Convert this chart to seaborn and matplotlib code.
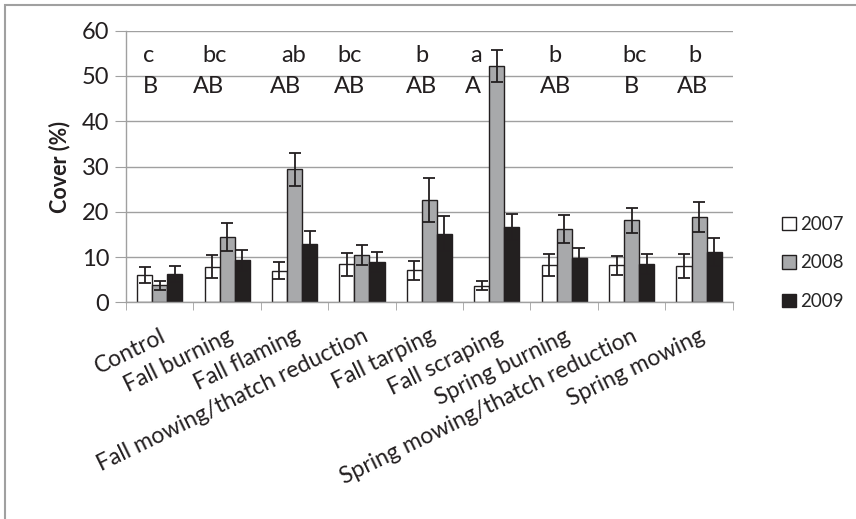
import numpy as np
import pandas as pd
import matplotlib
matplotlib.use("Agg")
import matplotlib.pyplot as plt
import seaborn as sns
from matplotlib.patches import Rectangle

treatments = ["Control", "Fall burning", "Fall flaming", "Fall mowing/thatch reduction",
              "Fall tarping", "Fall scraping", "Spring burning",
              "Spring mowing/thatch reduction", "Spring mowing"]
years = ["2007", "2008", "2009"]

cover_2007 = [6.1, 7.9, 7.0, 8.4, 7.1, 3.7, 8.2, 8.2, 8.0]
cover_2008 = [3.8, 14.5, 29.4, 10.4, 22.6, 52.2, 16.2, 18.1, 18.9]
cover_2009 = [6.2, 9.3, 12.8, 9.0, 15.2, 16.7, 9.8, 8.5, 11.1]

se_2007 = [1.8, 2.5, 1.9, 2.5, 2.1, 1.0, 2.4, 2.1, 2.6]
se_2008 = [1.0, 3.1, 3.6, 2.2, 4.9, 3.6, 3.0, 2.7, 3.3]
se_2009 = [1.8, 2.3, 2.9, 2.2, 3.9, 2.9, 2.3, 2.2, 3.1]

letters_lower = ["c", "bc", "ab", "bc", "b", "a", "b", "bc", "b"]
letters_upper = ["B", "AB", "AB", "AB", "AB", "A", "AB", "B", "AB"]

# layout: horizontal nudges of the letters (category units)
lower_dx = [-0.16, -0.18, -0.02, -0.19, -0.11, -0.31, -0.13, 0.04, -0.06]
upper_dx = [-0.14, -0.28, -0.14, -0.18, -0.12, -0.36, -0.13, 0.0, -0.09]

df = pd.DataFrame({
    "treatment": treatments * 3,
    "year": [y for y in years for _ in treatments],
    "cover": cover_2007 + cover_2008 + cover_2009,
})
se = [se_2007, se_2008, se_2009]

sns.set_style("white")
plt.rcParams["font.family"] = ["Lato", "DejaVu Sans"]
ink = "#231f20"

fig = plt.figure(figsize=(8.56, 5.19), dpi=100)
ax = fig.add_axes([0.1472, 0.4175, 0.856 - 0.1472, 0.9408 - 0.4175])

palette = ["#ffffff", "#a7a9ac", ink]
sns.barplot(data=df, x="treatment", y="cover", hue="year", palette=palette,
            order=treatments, hue_order=years, errorbar=None, width=0.67,
            edgecolor=ink, linewidth=1.0, ax=ax, zorder=2)

# error bars on top of each bar
for cont, err in zip(ax.containers, se):
    xs = [p.get_x() + p.get_width() / 2 for p in cont]
    hs = [p.get_height() for p in cont]
    ax.errorbar(xs, hs, yerr=err, fmt="none", ecolor=ink,
                elinewidth=1.3, capsize=4, capthick=1.3, zorder=3)

for i in range(len(treatments)):
    ax.text(i + lower_dx[i], 54.6, letters_lower[i], ha="center", va="center",
            fontsize=17, color=ink)
    ax.text(i + upper_dx[i], 47.7, letters_upper[i], ha="center", va="center",
            fontsize=17, color=ink)

ax.set_ylim(0, 60)
ax.set_xlim(-0.5, len(treatments) - 0.5)
ax.set_yticks(range(0, 61, 10))
ax.yaxis.grid(True, color="#a0a0a0", linewidth=1.0)
ax.set_axisbelow(True)
for s in ["top", "right"]:
    ax.spines[s].set_visible(False)
for s in ["left", "bottom"]:
    ax.spines[s].set_color("#a0a0a0")
    ax.spines[s].set_linewidth(1.0)

ax.set_xticks(np.arange(-0.5, len(treatments)), minor=True)
ax.tick_params(axis="x", which="minor", length=6, color="#a0a0a0", direction="out", bottom=True)
ax.tick_params(axis="x", which="major", length=0, pad=16.5)
ax.tick_params(axis="y", length=8, color="#a0a0a0", direction="out", left=True,
               labelsize=17, labelcolor=ink, pad=4)
ax.set_xticks(range(len(treatments)))
ax.set_xticklabels(treatments, rotation=26, ha="right", va="top", rotation_mode="anchor",
                   fontsize=16.5, color=ink)

ax.set_xlabel("")
ax.set_ylabel("Cover (%)", fontsize=15.5, fontweight="bold", color=ink, labelpad=8)

handles, labels = ax.get_legend_handles_labels()
ax.legend(handles, labels, loc="center left", bbox_to_anchor=(0.9136, 0.4933),
          bbox_transform=fig.transFigure, frameon=False, fontsize=13.5,
          handlelength=0.75, handleheight=0.75, handletextpad=0.2,
          labelspacing=1.15, borderaxespad=0, borderpad=0)

# outer chart border
fig.patches.append(Rectangle((5 / 856, -0.1), 1.2, (519 - 5) / 519 + 0.1,
                             transform=fig.transFigure, fill=False,
                             edgecolor="#a0a0a0", linewidth=1.5))

fig.savefig("out.png", dpi=100)
